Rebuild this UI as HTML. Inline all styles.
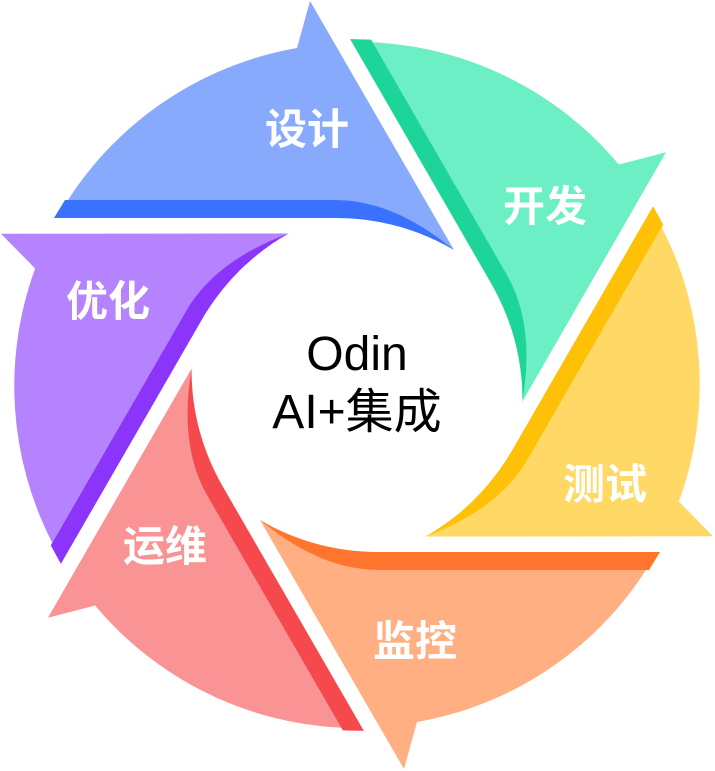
<!DOCTYPE html>
<html><head><meta charset="utf-8"><style>html,body{margin:0;padding:0;background:#fff;overflow:hidden;width:715px;height:771px}svg{display:block}</style></head>
<body>
<svg width="715" height="771" viewBox="0 0 715 771" xmlns="http://www.w3.org/2000/svg">
<defs>
<path id="L" d="M68,200 A342,342 0 0 1 297,48 L310,1 L454,250 C420,224 380,200 335,200 Z"/>
<path id="D" d="M65,200 L335,200 C380,200 420,222 454,250 C420,230 380,218 335,218 L54,218 Z"/>
</defs>
<g><use href="#L" fill="#87AAFD"/><use href="#D" fill="#3A72FF"/></g>
<g transform="rotate(60 357 385)"><use href="#L" fill="#6DEFC5"/><use href="#D" fill="#1DD598"/></g>
<g transform="rotate(120 357 385)"><use href="#L" fill="#FFD866"/><use href="#D" fill="#FFC107"/></g>
<g transform="rotate(180 357 385)"><use href="#L" fill="#FFAF82"/><use href="#D" fill="#FF752D"/></g>
<g transform="rotate(240 357 385)"><use href="#L" fill="#F99394"/><use href="#D" fill="#F5494E"/></g>
<g transform="rotate(300 357 385)"><use href="#L" fill="#B483FD"/><use href="#D" fill="#8B35FA"/></g>
<g font-family="'Liberation Sans','Noto Sans CJK SC',sans-serif" font-weight="bold" font-size="42" fill="#fff" text-anchor="middle">
<text x="307" y="144">设计</text>
<text x="545" y="221">开发</text>
<text x="605" y="499">测试</text>
<text x="415" y="656">监控</text>
<text x="165" y="561">运维</text>
<text x="108" y="316">优化</text>
</g>
<g font-family="'Liberation Sans','Noto Sans CJK SC',sans-serif" font-size="48" fill="#000" text-anchor="middle">
<text x="357" y="370">Odin</text>
<text x="357" y="428">AI+集成</text>
</g>
</svg>
</body></html>
